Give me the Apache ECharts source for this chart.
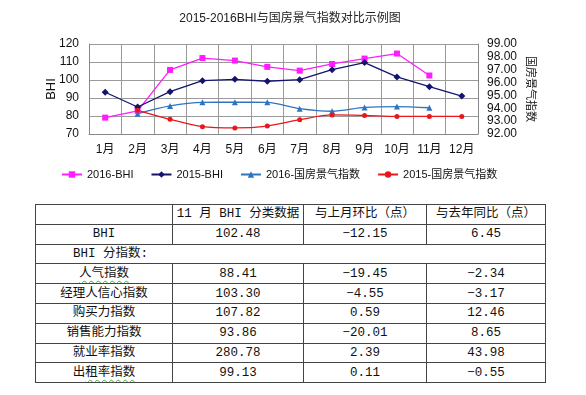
<!DOCTYPE html>
<html><head><meta charset="utf-8">
<script src="https://cdn.jsdelivr.net/npm/echarts@6/dist/echarts.min.js"></script>
<style>
html,body{margin:0;padding:0;background:#fff;}
#wrap{position:relative;width:586px;height:395px;overflow:hidden;}
#chart{position:absolute;left:0;top:0;width:586px;height:200px;}
#tbl{position:absolute;left:35px;top:204px;border-collapse:collapse;table-layout:fixed;width:510px;
 font-family:"Liberation Mono","Noto Sans CJK SC",monospace;font-size:12.5px;color:#111;}
#tbl td{border:1px solid #444;height:18.8px;padding:0;text-align:center;line-height:18px;white-space:nowrap;overflow:hidden;}
#tbl td.sub{text-align:left;padding-left:37px;}
.sq{text-decoration:underline wavy #3cb043;text-decoration-thickness:1px;text-underline-offset:3px;}
</style></head>
<body><div id="wrap"><div id="chart"></div><table id="tbl"></table></div>
<script>
// ---- data ----
const months = ['1月','2月','3月','4月','5月','6月','7月','8月','9月','10月','11月','12月'];
const bhi2016 = [79.1, 82.9, 105.6, 112.2, 110.8, 107.3, 105.2, 108.9, 111.9, 114.7, 102.5, null];
const bhi2015 = [93.2, 85.0, 93.5, 99.6, 100.4, 99.3, 100.2, 105.7, 109.7, 101.7, 96.3, 91.1];
const gf2016 = [null, 93.58, 94.18, 94.46, 94.47, 94.46, 93.97, 93.77, 94.07, 94.13, 94.04, null];
const gf2015 = [null, 93.84, 93.14, 92.57, 92.47, 92.62, 93.11, 93.48, 93.44, 93.37, 93.37, 93.37];
const seriesNames = ['2016-BHI','2015-BHI','2016-国房景气指数','2015-国房景气指数'];
const leftTicks = {min:70, max:120, interval:10};
const rightTicks = {min:92, max:99, interval:1};

const tableHeader = ['', '11 月 BHI 分类数据', '与上月环比（点）', '与去年同比（点）'];
const tableRows = [
  ['BHI', '102.48', '−12.15', '6.45'],
  ['BHI 分指数:'],
  ['人气指数', '88.41', '−19.45', '−2.34'],
  ['经理人信心指数', '103.30', '−4.55', '−3.17'],
  ['购买力指数', '107.82', '0.59', '12.46'],
  ['销售能力指数', '93.86', '−20.01', '8.65'],
  ['就业率指数', '280.78', '2.39', '43.98'],
  ['出租率指数', '99.13', '0.11', '−0.55']
];

// ---- table ----
const tbl = document.getElementById('tbl');
const cg = document.createElement('colgroup');
[137,131,123,119].forEach(w=>{const c=document.createElement('col');c.style.width=w+'px';cg.appendChild(c);});
tbl.appendChild(cg);
function addRow(cells){
  const tr=document.createElement('tr');
  if(cells.length===1){
    const td=document.createElement('td');td.colSpan=4;td.className='sub';td.textContent=cells[0];tr.appendChild(td);
  } else {
    cells.forEach((t,i)=>{
      const td=document.createElement('td');
      if(i===0 && (t==='人气指数')){td.innerHTML='<span class="sq">'+t+'</span>';}
      else if(i===0 && t==='出租率指数'){td.innerHTML='出<span class="sq">租率指数</span>';}
      else td.textContent=t;
      tr.appendChild(td);
    });
  }
  tbl.appendChild(tr);
}
addRow(tableHeader);
tableRows.forEach(addRow);

// ---- chart ----
const chart = echarts.init(document.getElementById('chart'), null, {renderer:'canvas'});
const font = '"Liberation Sans", Arial, "Noto Sans CJK SC", sans-serif';
const gridColor = '#9a9a9a';
const colors = ['#ff1dff', '#14146e', '#2f74c0', '#e8171c'];
chart.setOption({
  animation:false,
  textStyle:{fontFamily:font},
  title:{text:'2015-2016BHI与国房景气指数对比示例图', left:285, textAlign:'center', top:8,
    textStyle:{fontSize:12, fontWeight:'normal', color:'#222', fontFamily:font}},
  legend:{left:56, top:164, itemWidth:20, itemHeight:8, itemGap:17,
    textStyle:{fontSize:11, color:'#111', fontFamily:font},
    data:seriesNames},
  grid:{left:89, top:44, width:389, height:90},
  xAxis:{type:'category', data:months, boundaryGap:true,
    axisLine:{show:true, lineStyle:{color:'#888', width:1}},
    axisTick:{show:false},
    axisLabel:{color:'#111', fontSize:12, margin:10, interval:0, fontFamily:font},
    splitLine:{show:true, lineStyle:{color:gridColor, width:1}}},
  yAxis:[
    {type:'value', min:leftTicks.min, max:leftTicks.max, interval:leftTicks.interval, position:'left',
     name:'BHI', nameLocation:'middle', nameGap:31, nameRotate:90, nameMoveOverlap:false,
     nameTextStyle:{fontSize:13, color:'#111', fontFamily:font},
     axisLine:{show:true, lineStyle:{color:'#888'}}, axisTick:{show:false},
     axisLabel:{color:'#111', fontSize:12, margin:10, fontFamily:font},
     splitLine:{show:true, lineStyle:{color:gridColor, width:1}}},
    {type:'value', min:rightTicks.min, max:rightTicks.max, interval:rightTicks.interval, position:'right',
     name:'国房景气指数', nameLocation:'middle', nameGap:47, nameRotate:-90, nameMoveOverlap:false,
     nameTextStyle:{fontSize:11, color:'#111', fontFamily:font},
     axisLine:{show:true, lineStyle:{color:'#888'}}, axisTick:{show:false},
     axisLabel:{color:'#111', fontSize:12, margin:9, fontFamily:font, formatter:v=>v.toFixed(2)},
     splitLine:{show:false}}
  ],
  series:[
    {name:seriesNames[0], type:'line', yAxisIndex:0, data:bhi2016, color:colors[0],
     symbol:'rect', symbolSize:6, lineStyle:{width:1.3}, itemStyle:{color:colors[0]}},
    {name:seriesNames[1], type:'line', yAxisIndex:0, data:bhi2015, color:colors[1],
     symbol:'diamond', symbolSize:7, lineStyle:{width:1.3}, itemStyle:{color:colors[1]}},
    {name:seriesNames[2], type:'line', yAxisIndex:1, data:gf2016, color:colors[2], smooth:0.3,
     symbol:'triangle', symbolSize:6, lineStyle:{width:1.3}, itemStyle:{color:colors[2]}},
    {name:seriesNames[3], type:'line', yAxisIndex:1, data:gf2015, color:colors[3], smooth:0.3,
     symbol:'circle', symbolSize:5, lineStyle:{width:1.3}, itemStyle:{color:colors[3]}}
  ]
});
</script></body></html>
